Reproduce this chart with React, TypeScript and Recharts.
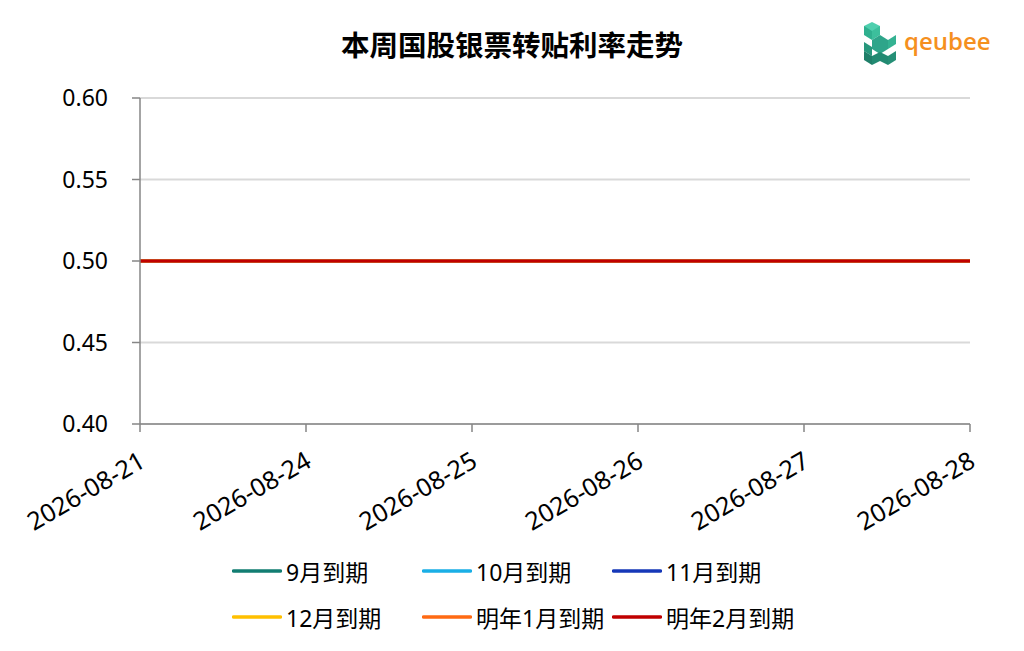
import React from 'react';
import { LineChart, Line, XAxis, YAxis, CartesianGrid, Legend } from 'recharts';

const dates = ['2026-08-21', '2026-08-24', '2026-08-25', '2026-08-26', '2026-08-27', '2026-08-28'];
const sep = [0.5, 0.5, 0.5, 0.5, 0.5, 0.5];
const oct = [0.5, 0.5, 0.5, 0.5, 0.5, 0.5];
const nov = [0.5, 0.5, 0.5, 0.5, 0.5, 0.5];
const dec = [0.5, 0.5, 0.5, 0.5, 0.5, 0.5];
const jan = [0.5, 0.5, 0.5, 0.5, 0.5, 0.5];
const feb = [0.5, 0.5, 0.5, 0.5, 0.5, 0.5];
const yTicks = [0.4, 0.45, 0.5, 0.55, 0.6];

const seriesDefs = [
  { key: 'sep', name: '9月到期', color: '#127d72', values: sep },
  { key: 'oct', name: '10月到期', color: '#1aafe6', values: oct },
  { key: 'nov', name: '11月到期', color: '#1638b8', values: nov },
  { key: 'dec', name: '12月到期', color: '#ffc000', values: dec },
  { key: 'jan', name: '明年1月到期', color: '#ff6a13', values: jan },
  { key: 'feb', name: '明年2月到期', color: '#c00000', values: feb },
];

const data = dates.map((d, i) => {
  const row: Record<string, any> = { date: d };
  seriesDefs.forEach((s) => (row[s.key] = s.values[i]));
  return row;
});

const FONT = '"Noto Sans", "Noto Sans CJK SC", sans-serif';

const XTick = (props: any) => {
  const { x, y, payload } = props;
  return (
    <g transform={`translate(${x},${y + 20})`}>
      <text
        x={0}
        y={0}
        dy="0.55em"
        textAnchor="end"
        transform="rotate(-30)"
        fontSize={25}
        fill="#000"
        fontFamily={FONT}
      >
        {payload.value}
      </text>
    </g>
  );
};

const LegendContent = () => (
  <div
    style={{
      display: 'grid',
      gridTemplateColumns: 'repeat(3, 190px)',
      rowGap: 16,
      marginLeft: 232,
      fontFamily: FONT,
      fontSize: 23,
      color: '#000',
    }}
  >
    {seriesDefs.map((s) => (
      <div key={s.key} style={{ display: 'flex', alignItems: 'center', height: 30 }}>
        <svg width={50} height={6} style={{ marginRight: 4 }}>
          <line x1={1.5} y1={3} x2={48.5} y2={3} stroke={s.color} strokeWidth={3.5} strokeLinecap="round" />
        </svg>
        <span style={{ whiteSpace: 'nowrap' }}>{s.name}</span>
      </div>
    ))}
  </div>
);

const Logo = () => (
  <svg width={130} height={50} style={{ position: 'absolute', left: 860, top: 20 }}>
    <g>
      <polygon points="12,2 20,6 20,15 12,11 4,15 4,6" fill="#4fcfae" />
      <polygon points="4,6 12,11 12,20 4,15" fill="#2fb08f" />
      <polygon points="20,6 12,11 12,20 20,15" fill="#3cbf9c" />
      <polygon points="12,20 20,15 28,20 28,29 20,34 12,29" fill="#2ea58a" />
      <polygon points="28,20 36,15 36,24 28,29" fill="#34b292" />
      <polygon points="4,22 12,27 12,36 4,31" fill="#27977c" />
      <polygon points="12,36 20,32 28,36 28,45 20,41 12,45" fill="#228a72" />
      <polygon points="4,31 12,36 12,45 4,40" fill="#1f7f69" />
      <polygon points="28,36 36,31 36,40 28,45" fill="#258f76" />
    </g>
    <text x={44} y={30} fontSize={24} fontWeight={600} fill="#f5901e" fontFamily='"Open Sans", sans-serif'>
      qeubee
    </text>
  </svg>
);

export default function App() {
  return (
    <div style={{ position: 'absolute', left: 0, top: 0, width: 1024, height: 651, background: '#fff' }}>
      <div
        style={{
          position: 'absolute',
          left: 0,
          top: 26,
          width: 1024,
          textAlign: 'center',
          fontFamily: '"Noto Sans CJK SC", sans-serif',
          fontWeight: 700,
          fontSize: 28.5,
          lineHeight: '36px',
          color: '#000',
        }}
      >
        本周国股银票转贴利率走势
      </div>
      <Logo />
      <LineChart
        width={1024}
        height={651}
        data={data}
        margin={{ top: 98, right: 54, bottom: 0, left: 0 }}
      >
        <CartesianGrid horizontal vertical={false} stroke="#d9d9d9" strokeWidth={2} />
        <XAxis
          dataKey="date"
          tick={<XTick />}
          tickSize={8}
          height={151}
          interval={0}
          axisLine={{ stroke: '#868686', strokeWidth: 1.5 }}
          tickLine={{ stroke: '#868686', strokeWidth: 1.5 }}
        />
        <YAxis
          domain={[0.4, 0.6]}
          ticks={yTicks}
          width={140}
          tickSize={8}
          tickMargin={24}
          tickFormatter={(v: number) => v.toFixed(2)}
          tick={{ fontSize: 23, fill: '#000', fontFamily: FONT }}
          axisLine={{ stroke: '#868686', strokeWidth: 1.5 }}
          tickLine={{ stroke: '#868686', strokeWidth: 1.5 }}
        />
        <Legend
          content={<LegendContent />}
          wrapperStyle={{ position: 'absolute', left: 0, top: 556, width: 1024 }}
        />
        {seriesDefs.map((s) => (
          <Line
            key={s.key}
            type="linear"
            dataKey={s.key}
            name={s.name}
            stroke={s.color}
            strokeWidth={3}
            dot={false}
            isAnimationActive={false}
          />
        ))}
      </LineChart>
    </div>
  );
}
